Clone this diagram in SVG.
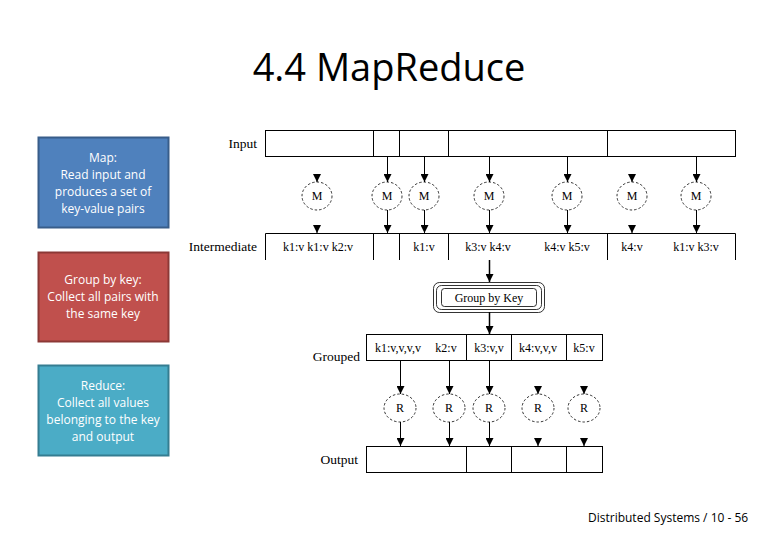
<svg xmlns="http://www.w3.org/2000/svg" width="780" height="540" viewBox="0 0 780 540">
<defs>
<marker id="ah" markerWidth="8" markerHeight="8" refX="8" refY="4" orient="auto" markerUnits="userSpaceOnUse" viewBox="0 0 8 8">
<path d="M0,0 L8,4 L0,8 Z" fill="#000"/>
</marker>
<style>
.lb{font-family:"Liberation Serif","Times New Roman",serif;font-size:13.5px;fill:#000;text-anchor:end}
.box{fill:#fff;stroke:#000;stroke-width:1}
.ln{stroke:#000;stroke-width:1;fill:none}
.m{fill:#fff;stroke:#000;stroke-width:0.8;stroke-dasharray:2.5,2}
.ct{font-family:"Liberation Serif","Times New Roman",serif;font-size:12px;text-anchor:middle}
.side{font-family:"Open Sans","Liberation Sans",sans-serif;font-size:12px;fill:#fff;text-anchor:middle}
</style>
</defs>
<rect width="780" height="540" fill="#fff"/>
<text x="389" y="81" text-anchor="middle" font-family="Open Sans, Liberation Sans, sans-serif" font-size="38" fill="#000">4.4 MapReduce</text>

<g id="map-desc">
<rect x="38.5" y="137.5" width="130" height="90" fill="#4F81BD" stroke="#385D8A" stroke-width="2"/>
<text class="side" x="103" y="162">Map:</text>
<text class="side" x="103" y="179">Read input and</text>
<text class="side" x="103" y="196">produces a set of</text>
<text class="side" x="103" y="213">key-value pairs</text>
</g>
<g id="group-desc">
<rect x="38.5" y="252.5" width="130" height="89" fill="#C0504D" stroke="#8C3836" stroke-width="2"/>
<text class="side" x="103" y="284">Group by key:</text>
<text class="side" x="103" y="301">Collect all pairs with</text>
<text class="side" x="103" y="318">the same key</text>
</g>
<g id="reduce-desc">
<rect x="38.5" y="365.5" width="130" height="90" fill="#4BACC6" stroke="#357D91" stroke-width="2"/>
<text class="side" x="103" y="390">Reduce:</text>
<text class="side" x="103" y="407">Collect all values</text>
<text class="side" x="103" y="424">belonging to the key</text>
<text class="side" x="103" y="441">and output</text>
</g>

<g id="input">
<text class="lb" x="257" y="148">Input</text>
<rect class="box" x="265.5" y="130.5" width="470" height="26"/>
<path class="ln" d="M373.5,130.5V156.5M399.5,130.5V156.5M448.5,130.5V156.5M607.5,130.5V156.5"/>
</g>

<g id="intermediate">
<text class="lb" x="257" y="251">Intermediate</text>
<path class="ln" d="M265.5,260V233.5H735.5V260M373.5,233.5V260M399.5,233.5V260M448.5,233.5V260M607.5,233.5V260"/>
<text class="ct" x="318" y="251">k1:v k1:v k2:v</text>
<text class="ct" x="424" y="251">k1:v</text>
<text class="ct" x="488" y="251">k3:v k4:v</text>
<text class="ct" x="567" y="251">k4:v k5:v</text>
<text class="ct" x="632" y="251">k4:v</text>
<text class="ct" x="696" y="251">k1:v k3:v</text>
</g>

<g id="mappers">
<ellipse class="m" cx="317" cy="196" rx="15" ry="14"/><text class="ct" x="317" y="200" font-size="11">M</text>
<ellipse class="m" cx="387" cy="196" rx="15" ry="14"/><text class="ct" x="387" y="200" font-size="11">M</text>
<ellipse class="m" cx="424" cy="196" rx="15" ry="14"/><text class="ct" x="424" y="200" font-size="11">M</text>
<ellipse class="m" cx="489" cy="196" rx="15" ry="14"/><text class="ct" x="489" y="200" font-size="11">M</text>
<ellipse class="m" cx="567" cy="196" rx="15" ry="14"/><text class="ct" x="567" y="200" font-size="11">M</text>
<ellipse class="m" cx="632" cy="196" rx="15" ry="14"/><text class="ct" x="632" y="200" font-size="11">M</text>
<ellipse class="m" cx="696" cy="196" rx="15" ry="14"/><text class="ct" x="696" y="200" font-size="11">M</text>
</g>

<g id="group-by-key">
<rect x="433.5" y="282.5" width="111" height="30" rx="6" fill="#fff" stroke="#000" stroke-width="0.8"/>
<rect x="436.5" y="285.5" width="105" height="24" rx="5" fill="none" stroke="#000" stroke-width="0.8"/>
<rect x="441.5" y="288.5" width="95" height="18" rx="3" fill="none" stroke="#000" stroke-width="0.8"/>
<text class="ct" x="489" y="302">Group by Key</text>
</g>

<g id="grouped">
<text class="lb" x="360" y="361">Grouped</text>
<rect class="box" x="366.5" y="334.5" width="236" height="26"/>
<path class="ln" d="M466.5,334.5V360.5M511.5,334.5V360.5M566.5,334.5V360.5"/>
<text class="ct" x="398" y="352">k1:v,v,v,v</text>
<text class="ct" x="446" y="352">k2:v</text>
<text class="ct" x="489" y="352">k3:v,v</text>
<text class="ct" x="538" y="352">k4:v,v,v</text>
<text class="ct" x="584" y="352">k5:v</text>
</g>

<g id="reducers">
<ellipse class="m" cx="400" cy="408" rx="16" ry="14"/><text class="ct" x="400" y="412" font-size="11">R</text>
<ellipse class="m" cx="449" cy="408" rx="16" ry="14"/><text class="ct" x="449" y="412" font-size="11">R</text>
<ellipse class="m" cx="489" cy="408" rx="16" ry="14"/><text class="ct" x="489" y="412" font-size="11">R</text>
<ellipse class="m" cx="538" cy="408" rx="16" ry="14"/><text class="ct" x="538" y="412" font-size="11">R</text>
<ellipse class="m" cx="584" cy="408" rx="16" ry="14"/><text class="ct" x="584" y="412" font-size="11">R</text>
</g>

<g id="output">
<text class="lb" x="358" y="464">Output</text>
<rect class="box" x="366.5" y="446.5" width="236" height="26"/>
<path class="ln" d="M466.5,446.5V472.5M511.5,446.5V472.5M566.5,446.5V472.5"/>
</g>

<g id="connectors" stroke="#000" stroke-width="1" fill="none">
<path d="M317,174V182" marker-end="url(#ah)"/>
<path d="M387.5,157V182" marker-end="url(#ah)"/>
<path d="M424.5,157V182" marker-end="url(#ah)"/>
<path d="M489.5,157V182" marker-end="url(#ah)"/>
<path d="M567.5,157V182" marker-end="url(#ah)"/>
<path d="M632,174V182" marker-end="url(#ah)"/>
<path d="M696.5,157V182" marker-end="url(#ah)"/>
<path d="M317,225V233" marker-end="url(#ah)"/>
<path d="M387.5,210V233" marker-end="url(#ah)"/>
<path d="M424.5,210V233" marker-end="url(#ah)"/>
<path d="M489.5,210V233" marker-end="url(#ah)"/>
<path d="M567.5,210V233" marker-end="url(#ah)"/>
<path d="M632,225V233" marker-end="url(#ah)"/>
<path d="M696.5,210V233" marker-end="url(#ah)"/>
<path d="M489.5,260V282" stroke-width="1.5" marker-end="url(#ah)"/>
<path d="M489.5,312V334" stroke-width="1.5" marker-end="url(#ah)"/>
<path d="M400.5,361V394" marker-end="url(#ah)"/>
<path d="M449.5,361V394" marker-end="url(#ah)"/>
<path d="M489.5,361V394" marker-end="url(#ah)"/>
<path d="M538,386V394" marker-end="url(#ah)"/>
<path d="M584,386V394" marker-end="url(#ah)"/>
<path d="M400.5,422V446" marker-end="url(#ah)"/>
<path d="M449.5,422V446" marker-end="url(#ah)"/>
<path d="M489.5,422V446" marker-end="url(#ah)"/>
<path d="M538,438V446" marker-end="url(#ah)"/>
<path d="M584,438V446" marker-end="url(#ah)"/>
</g>

<text x="588" y="522" font-family="Open Sans, Liberation Sans, sans-serif" font-size="12" fill="#000">Distributed Systems / 10 - 56</text>
</svg>
